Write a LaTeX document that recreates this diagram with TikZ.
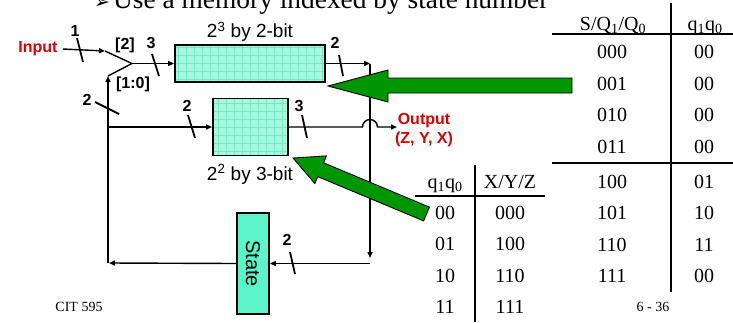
\documentclass[tikz,border=0pt]{standalone}
\usepackage{fontspec}
\setmainfont{Liberation Serif}
\setsansfont{Liberation Sans}
\newfontfamily\citSym{DejaVu Sans}
\usetikzlibrary{arrows.meta,calc,positioning}
\definecolor{citRed}{HTML}{DD0000}
\definecolor{citMem}{HTML}{A8F6DC}
\definecolor{citGrid}{HTML}{70EBC6}
\definecolor{citState}{HTML}{5CF5C9}
\definecolor{citGreen}{HTML}{009600}
\newcommand{\citSize}[1]{\fontsize{#1}{#1}\selectfont}
\newcommand{\citWireW}{1.4pt}
\newcommand{\citBoxW}{1.8pt}
\tikzset{
  wireline/.style={line width=\citWireW},
  wire/.style={wireline, -{Triangle[length=6pt,width=5pt]}},
  slash/.style={line width=1.8pt},
  busnum/.style={font=\sffamily\bfseries\citSize{16}, inner sep=0pt},
  memlbl/.style={font=\sffamily\citSize{19}, inner sep=0pt},
  membox/.style={draw, line width=\citBoxW, fill=citMem, inner sep=0pt,
    path picture={\draw[citGrid, line width=0.9pt]
      (path picture bounding box.south west) grid[step=8pt]
      (path picture bounding box.north east);}},
  tabtxt/.style={font=\citSize{20}, inner sep=0pt},
  bigarrow/.style={fill=citGreen, draw=black, line width=0.9pt, line join=miter},
}

\begin{document}
\begin{tikzpicture}[x=1pt, y=-1pt, line cap=butt]
  \useasboundingbox (0,0) rectangle (733,322);

  % ===== Title (cut off at the top) =====
  \node[anchor=base west, inner sep=0pt, font=\citSym\citSize{19}] (bul) at (94,8.5) {➢};
  \node[anchor=base west, inner sep=0pt, font=\citSize{27.4}] (ttl) at (113,8.5)
    {Use a memory indexed by state number};

  % ===== Memories and state register =====
  \node[membox, minimum width=150, minimum height=37.5] (mem1) at (250,63.5) {};
  \node[memlbl, anchor=base] (mem1lbl) at (250,37.5) {2\textsuperscript{3} by 2-bit};
  \node[membox, minimum width=75, minimum height=57] (mem2) at (250.5,127) {};
  \node[memlbl, anchor=base] (mem2lbl) at (250,180) {2\textsuperscript{2} by 3-bit};
  \node[draw, line width=\citBoxW, fill=citState, rotate=-90, inner sep=0pt,
        minimum width=101, minimum height=32, font=\sffamily\citSize{20}]
    (state) at (253,263.5) {State};

  % ===== Wiring =====
  \node[busnum, text=citRed] (inlbl) at (38,49) {Input};
  \coordinate (mxa) at (105,51);
  \coordinate (mxo) at (132,63.5);
  \coordinate (mxb) at (108,76);
  \coordinate (cTR) at (370,63.5);
  \coordinate (cBR) at (370,258);
  \coordinate (cBL) at (109,263);
  \coordinate (cBr) at (108,127);
  \coordinate (outtip) at (397,127);

  \draw[wire] ([xshift=5pt]inlbl.east) -- (mxa);
  \draw[wireline] (mxa) -- (mxo) -- (mxb);
  \draw[wire] (mxo) -- (mem1.west);
  \draw[wire] (mem1.east) -- (cTR);
  \draw[wire] (cTR) -- (cBR);
  \draw[wire] (cBR |- state.north) -- (state.north);
  \draw[wire] (state.south) -- (cBL);
  \draw[wire] (cBL -| mxb) -- (mxb);
  \draw[wire] (cBr) -- (mem2.west);
  \draw[wire] (mem2.east) -- (362.5,127) arc[start angle=180, end angle=360, radius=7.5]
    -- (outtip);
  \node[text=citRed, font=\sffamily\bfseries\fontsize{16}{19}\selectfont,
        inner sep=0pt, align=center] (outlbl) at (424,130) {Output\\(Z, Y, X)};

  % Bus widths
  \draw[slash] (77,38) -- (83,62);
  \node[busnum] (b1) at (75,31) {1};
  \node[busnum] (bsel) at (125,45) {[2]};
  \node[busnum] (blow) at (133,84) {[1:0]};
  \draw[slash] (152,54) -- (159,76);
  \node[busnum] (b3a) at (151,43) {3};
  \draw[slash] (95,102) -- (119,114);
  \node[busnum] (b2a) at (87,100) {2};
  \draw[slash] (339,55) -- (343,76);
  \node[busnum] (b2b) at (335,43) {2};
  \draw[slash] (188,115) -- (195,138);
  \node[busnum] (b2c) at (187,106) {2};
  \draw[slash] (302,115) -- (307,138);
  \node[busnum] (b3b) at (299,106) {3};
  \draw[slash] (290,252) -- (295,274);
  \node[busnum] (b2d) at (287,240) {2};

  % ===== Pointer arrows =====
  \draw[bigarrow] (572,78) -- (388,78) -- (388,70) -- (328,86) -- (388,102)
    -- (388,93) -- (572,93) -- cycle;
  \draw[bigarrow] (293,158) -- (326.4,155.9) -- (323.5,162.8) -- (429.4,207.1)
    -- (423.6,220.9) -- (317.7,176.6) -- (314.8,183.5) -- cycle;

  % ===== Table: next state =====
  \draw[line width=1.3pt] (552,34) -- (733,34);
  \draw[line width=1.3pt] (552,163) -- (733,163);
  \draw[line width=1.3pt] (671,3) -- (671,292);
  \node[tabtxt, anchor=base] (hS) at (613,30) {S/Q\textsubscript{1}/Q\textsubscript{0}};
  \node[tabtxt, anchor=base] (hq) at (705,30) {q\textsubscript{1}q\textsubscript{0}};
  \foreach \s/\q [count=\i] in {000/00, 001/00, 010/00, 011/00} {
    \node[tabtxt] (sa\i) at (612,{52+31.7*(\i-1)}) {\s};
    \node[tabtxt] (qa\i) at (704,{52+31.7*(\i-1)}) {\q};
  }
  \foreach \s/\q [count=\i] in {100/01, 101/10, 110/11, 111/00} {
    \node[tabtxt] (sb\i) at (612,{182+31.4*(\i-1)}) {\s};
    \node[tabtxt] (qb\i) at (704,{182+31.4*(\i-1)}) {\q};
  }

  % ===== Table: output =====
  \draw[line width=2pt] (415,196) -- (545,196);
  \draw[line width=2pt] (475,165) -- (475,322);
  \node[tabtxt, anchor=base] (hq2) at (445,188) {q\textsubscript{1}q\textsubscript{0}};
  \node[tabtxt, anchor=base] (hxyz) at (510,188) {X/Y/Z};
  \foreach \q/\o [count=\i] in {00/000, 01/100, 10/110, 11/111} {
    \node[tabtxt] (qc\i) at (445,{213+31.3*(\i-1)}) {\q};
    \node[tabtxt] (oc\i) at (510,{213+31.3*(\i-1)}) {\o};
  }

  % ===== Footer =====
  \node[font=\citSize{14}, inner sep=0pt] (foot1) at (79,307) {CIT 595};
  \node[font=\citSize{14}, inner sep=0pt] (foot2) at (653,307) {6 - 36};
\end{tikzpicture}
\end{document}
